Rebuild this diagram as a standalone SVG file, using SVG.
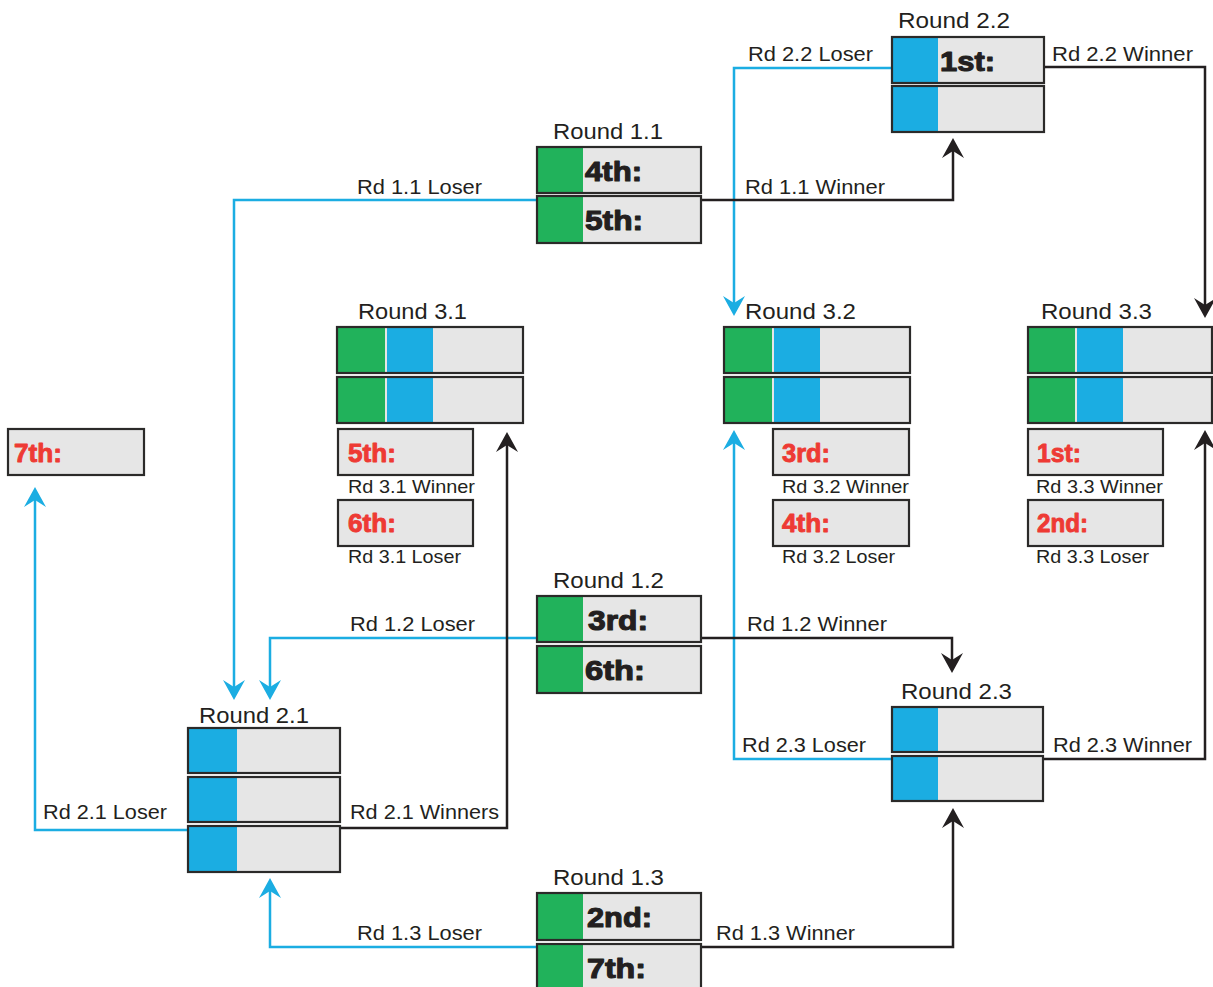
<svg xmlns="http://www.w3.org/2000/svg" width="1213" height="987" viewBox="0 0 1213 987">
<style>
  .cell{fill:#E6E6E6;stroke:none}
  .frame{fill:none;stroke:#2B2A29;stroke-width:2.2}
  .g{fill:#21B25B}
  .b{fill:#1BADE2}
  .rt{font-family:"Liberation Sans",Arial,sans-serif;font-size:22px;fill:#231F20}
  .cl{font-family:"Liberation Sans",Arial,sans-serif;font-size:20px;fill:#231F20}
  .rl{font-family:"Liberation Sans",Arial,sans-serif;font-size:19px;fill:#231F20}
  .bk{font-family:"Liberation Sans",Arial,sans-serif;font-size:28px;font-weight:bold;fill:#231F20;stroke:#231F20;stroke-width:1.1px;stroke-linejoin:round}
  .rd{font-family:"Liberation Sans",Arial,sans-serif;font-size:26px;font-weight:bold;fill:#EE3A34;stroke:#EE3A34;stroke-width:0.9px;stroke-linejoin:round}
  .lb{fill:none;stroke:#1BADE2;stroke-width:2.5}
  .lk{fill:none;stroke:#231F20;stroke-width:2.5}
</style>
<defs>
  <marker id="ak" viewBox="-12 -12 24 24" markerWidth="24" markerHeight="24" refX="0" refY="0" orient="auto" markerUnits="userSpaceOnUse">
    <path d="M10,0 L-10,-11 L-3,0 L-10,11 Z" fill="#231F20"/>
  </marker>
  <marker id="ab" viewBox="-12 -12 24 24" markerWidth="24" markerHeight="24" refX="0" refY="0" orient="auto" markerUnits="userSpaceOnUse">
    <path d="M10,0 L-10,-11 L-3,0 L-10,11 Z" fill="#1BADE2"/>
  </marker>
</defs>
<rect width="1213" height="987" fill="#FFFFFF"/>

<g id="connectors">
  <path class="lb" d="M892,68 H734 V306" marker-end="url(#ab)"/>
  <path class="lb" d="M537,200 H234 V690" marker-end="url(#ab)"/>
  <path class="lb" d="M537,638 H270 V690" marker-end="url(#ab)"/>
  <path class="lb" d="M892,759 H734 V440" marker-end="url(#ab)"/>
  <path class="lb" d="M188,830 H35 V497" marker-end="url(#ab)"/>
  <path class="lb" d="M537,947 H270 V888" marker-end="url(#ab)"/>
  <path class="lk" d="M1044,67 H1205 V308" marker-end="url(#ak)"/>
  <path class="lk" d="M701,200 H953 V148" marker-end="url(#ak)"/>
  <path class="lk" d="M701,638 H952 V663" marker-end="url(#ak)"/>
  <path class="lk" d="M1043,759 H1205 V440" marker-end="url(#ak)"/>
  <path class="lk" d="M340,828 H507 V442" marker-end="url(#ak)"/>
  <path class="lk" d="M701,947 H953 V818" marker-end="url(#ak)"/>
  <text class="cl" x="748" y="61" textLength="125" lengthAdjust="spacingAndGlyphs">Rd 2.2 Loser</text>
  <text class="cl" x="1052" y="61" textLength="141" lengthAdjust="spacingAndGlyphs">Rd 2.2 Winner</text>
  <text class="cl" x="357" y="194" textLength="125" lengthAdjust="spacingAndGlyphs">Rd 1.1 Loser</text>
  <text class="cl" x="745" y="194" textLength="140" lengthAdjust="spacingAndGlyphs">Rd 1.1 Winner</text>
  <text class="cl" x="350" y="631" textLength="125" lengthAdjust="spacingAndGlyphs">Rd 1.2 Loser</text>
  <text class="cl" x="747" y="631" textLength="140" lengthAdjust="spacingAndGlyphs">Rd 1.2 Winner</text>
  <text class="cl" x="742" y="752" textLength="124" lengthAdjust="spacingAndGlyphs">Rd 2.3 Loser</text>
  <text class="cl" x="1053" y="752" textLength="139" lengthAdjust="spacingAndGlyphs">Rd 2.3 Winner</text>
  <text class="cl" x="43" y="819" textLength="124" lengthAdjust="spacingAndGlyphs">Rd 2.1 Loser</text>
  <text class="cl" x="350" y="819" textLength="149" lengthAdjust="spacingAndGlyphs">Rd 2.1 Winners</text>
  <text class="cl" x="357" y="940" textLength="125" lengthAdjust="spacingAndGlyphs">Rd 1.3 Loser</text>
  <text class="cl" x="716" y="940" textLength="139" lengthAdjust="spacingAndGlyphs">Rd 1.3 Winner</text>
</g>

<g id="round-2-2">
  <text class="rt" x="898" y="28" textLength="112" lengthAdjust="spacingAndGlyphs">Round 2.2</text>
  <rect class="cell" x="892" y="37" width="152" height="46"/><rect class="b" x="892" y="37" width="46" height="46"/><rect class="frame" x="892" y="37" width="152" height="46"/>
  <rect class="cell" x="892" y="86" width="152" height="46"/><rect class="b" x="892" y="86" width="46" height="46"/><rect class="frame" x="892" y="86" width="152" height="46"/>
  <text class="bk" x="940" y="71" textLength="55" lengthAdjust="spacingAndGlyphs">1st:</text>
</g>

<g id="round-1-1">
  <text class="rt" x="553" y="139" textLength="110" lengthAdjust="spacingAndGlyphs">Round 1.1</text>
  <rect class="cell" x="537" y="147" width="164" height="46"/><rect class="g" x="537" y="147" width="46" height="46"/><rect class="frame" x="537" y="147" width="164" height="46"/>
  <rect class="cell" x="537" y="196" width="164" height="47"/><rect class="g" x="537" y="196" width="46" height="47"/><rect class="frame" x="537" y="196" width="164" height="47"/>
  <text class="bk" x="585" y="181" textLength="57" lengthAdjust="spacingAndGlyphs">4th:</text>
  <text class="bk" x="585" y="230" textLength="58" lengthAdjust="spacingAndGlyphs">5th:</text>
</g>

<g id="round-3-1">
  <text class="rt" x="358" y="319" textLength="109" lengthAdjust="spacingAndGlyphs">Round 3.1</text>
  <rect class="cell" x="337" y="327" width="186" height="46"/><rect class="g" x="337" y="327" width="48" height="46"/><rect class="b" x="387" y="327" width="46" height="46"/><rect class="frame" x="337" y="327" width="186" height="46"/>
  <rect class="cell" x="337" y="377" width="186" height="46"/><rect class="g" x="337" y="377" width="48" height="46"/><rect class="b" x="387" y="377" width="46" height="46"/><rect class="frame" x="337" y="377" width="186" height="46"/>
</g>
<g id="result-5th">
  <rect class="cell" x="338" y="429" width="135" height="46"/><rect class="frame" x="338" y="429" width="135" height="46"/>
  <text class="rd" x="348" y="462" textLength="48" lengthAdjust="spacingAndGlyphs">5th:</text>
  <text class="rl" x="348" y="493" textLength="127" lengthAdjust="spacingAndGlyphs">Rd 3.1 Winner</text>
</g>
<g id="result-6th">
  <rect class="cell" x="338" y="500" width="135" height="46"/><rect class="frame" x="338" y="500" width="135" height="46"/>
  <text class="rd" x="348" y="532" textLength="48" lengthAdjust="spacingAndGlyphs">6th:</text>
  <text class="rl" x="348" y="563" textLength="113" lengthAdjust="spacingAndGlyphs">Rd 3.1 Loser</text>
</g>

<g id="round-3-2">
  <text class="rt" x="745" y="319" textLength="111" lengthAdjust="spacingAndGlyphs">Round 3.2</text>
  <rect class="cell" x="724" y="327" width="186" height="46"/><rect class="g" x="724" y="327" width="48" height="46"/><rect class="b" x="774" y="327" width="46" height="46"/><rect class="frame" x="724" y="327" width="186" height="46"/>
  <rect class="cell" x="724" y="377" width="186" height="46"/><rect class="g" x="724" y="377" width="48" height="46"/><rect class="b" x="774" y="377" width="46" height="46"/><rect class="frame" x="724" y="377" width="186" height="46"/>
</g>
<g id="result-3rd">
  <rect class="cell" x="773" y="429" width="136" height="46"/><rect class="frame" x="773" y="429" width="136" height="46"/>
  <text class="rd" x="782" y="462" textLength="48" lengthAdjust="spacingAndGlyphs">3rd:</text>
  <text class="rl" x="782" y="493" textLength="127" lengthAdjust="spacingAndGlyphs">Rd 3.2 Winner</text>
</g>
<g id="result-4th">
  <rect class="cell" x="773" y="500" width="136" height="46"/><rect class="frame" x="773" y="500" width="136" height="46"/>
  <text class="rd" x="782" y="532" textLength="48" lengthAdjust="spacingAndGlyphs">4th:</text>
  <text class="rl" x="782" y="563" textLength="113" lengthAdjust="spacingAndGlyphs">Rd 3.2 Loser</text>
</g>

<g id="round-3-3">
  <text class="rt" x="1041" y="319" textLength="111" lengthAdjust="spacingAndGlyphs">Round 3.3</text>
  <rect class="cell" x="1028" y="327" width="185" height="46"/><rect class="g" x="1028" y="327" width="47" height="46"/><rect class="b" x="1077" y="327" width="46" height="46"/><rect class="frame" x="1028" y="327" width="184" height="46"/>
  <rect class="cell" x="1028" y="377" width="185" height="46"/><rect class="g" x="1028" y="377" width="47" height="46"/><rect class="b" x="1077" y="377" width="46" height="46"/><rect class="frame" x="1028" y="377" width="184" height="46"/>
</g>
<g id="result-1st">
  <rect class="cell" x="1028" y="429" width="135" height="46"/><rect class="frame" x="1028" y="429" width="135" height="46"/>
  <text class="rd" x="1037" y="462" textLength="44" lengthAdjust="spacingAndGlyphs">1st:</text>
  <text class="rl" x="1036" y="493" textLength="127" lengthAdjust="spacingAndGlyphs">Rd 3.3 Winner</text>
</g>
<g id="result-2nd">
  <rect class="cell" x="1028" y="500" width="135" height="46"/><rect class="frame" x="1028" y="500" width="135" height="46"/>
  <text class="rd" x="1037" y="532" textLength="51" lengthAdjust="spacingAndGlyphs">2nd:</text>
  <text class="rl" x="1036" y="563" textLength="113" lengthAdjust="spacingAndGlyphs">Rd 3.3 Loser</text>
</g>

<g id="result-7th">
  <rect class="cell" x="8" y="429" width="136" height="46"/><rect class="frame" x="8" y="429" width="136" height="46"/>
  <text class="rd" x="14" y="462" textLength="48" lengthAdjust="spacingAndGlyphs">7th:</text>
</g>

<g id="round-1-2">
  <text class="rt" x="553" y="588" textLength="111" lengthAdjust="spacingAndGlyphs">Round 1.2</text>
  <rect class="cell" x="537" y="596" width="164" height="46"/><rect class="g" x="537" y="596" width="46" height="46"/><rect class="frame" x="537" y="596" width="164" height="46"/>
  <rect class="cell" x="537" y="646" width="164" height="47"/><rect class="g" x="537" y="646" width="46" height="47"/><rect class="frame" x="537" y="646" width="164" height="47"/>
  <text class="bk" x="588" y="630" textLength="60" lengthAdjust="spacingAndGlyphs">3rd:</text>
  <text class="bk" x="585" y="680" textLength="60" lengthAdjust="spacingAndGlyphs">6th:</text>
</g>

<g id="round-2-3">
  <text class="rt" x="901" y="699" textLength="111" lengthAdjust="spacingAndGlyphs">Round 2.3</text>
  <rect class="cell" x="892" y="707" width="151" height="45"/><rect class="b" x="892" y="707" width="46" height="45"/><rect class="frame" x="892" y="707" width="151" height="45"/>
  <rect class="cell" x="892" y="756" width="151" height="45"/><rect class="b" x="892" y="756" width="46" height="45"/><rect class="frame" x="892" y="756" width="151" height="45"/>
</g>

<g id="round-2-1">
  <text class="rt" x="199" y="723" textLength="110" lengthAdjust="spacingAndGlyphs">Round 2.1</text>
  <rect class="cell" x="188" y="728" width="152" height="45"/><rect class="b" x="188" y="728" width="49" height="45"/><rect class="frame" x="188" y="728" width="152" height="45"/>
  <rect class="cell" x="188" y="777" width="152" height="45"/><rect class="b" x="188" y="777" width="49" height="45"/><rect class="frame" x="188" y="777" width="152" height="45"/>
  <rect class="cell" x="188" y="826" width="152" height="46"/><rect class="b" x="188" y="826" width="49" height="46"/><rect class="frame" x="188" y="826" width="152" height="46"/>
</g>

<g id="round-1-3">
  <text class="rt" x="553" y="885" textLength="111" lengthAdjust="spacingAndGlyphs">Round 1.3</text>
  <rect class="cell" x="537" y="893" width="164" height="47"/><rect class="g" x="537" y="893" width="46" height="47"/><rect class="frame" x="537" y="893" width="164" height="47"/>
  <rect class="cell" x="537" y="944" width="164" height="47"/><rect class="g" x="537" y="944" width="46" height="47"/><rect class="frame" x="537" y="944" width="164" height="47"/>
  <text class="bk" x="587" y="927" textLength="65" lengthAdjust="spacingAndGlyphs">2nd:</text>
  <text class="bk" x="587" y="978" textLength="59" lengthAdjust="spacingAndGlyphs">7th:</text>
</g>
</svg>
